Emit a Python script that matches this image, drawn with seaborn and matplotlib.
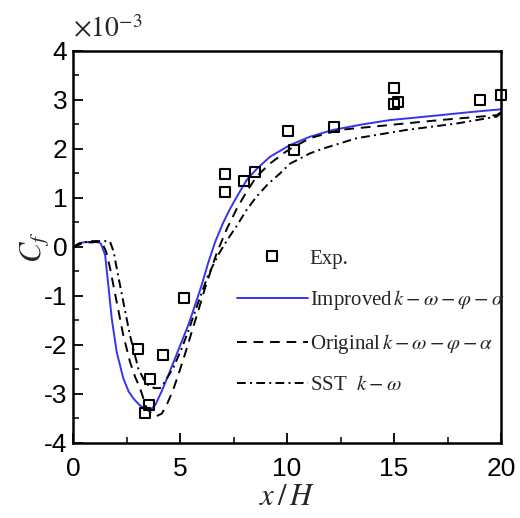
import numpy as np
import pandas as pd
import matplotlib
matplotlib.use("Agg")
import matplotlib.pyplot as plt
from matplotlib.ticker import MultipleLocator
from matplotlib.lines import Line2D
import seaborn as sns

# ---------------- data (Cf in units of 1e-3) ----------------
exp_x = [3.04, 3.36, 3.55, 3.60, 4.21, 5.19, 7.10, 7.10, 7.99, 8.50,
         10.05, 10.33, 12.20, 15.00, 15.00, 15.19, 19.02, 20.00]
exp_y = [-2.08, -3.39, -3.22, -2.69, -2.20, -1.04, 1.49, 1.12, 1.35, 1.53,
         2.37, 1.98, 2.45, 3.24, 2.92, 2.96, 3.00, 3.10]

imp_x = [0, 0.3, 0.6, 0.9, 1.1, 1.3, 1.5, 1.65, 1.81, 2.04, 2.35, 2.6, 2.82,
         3.05, 3.29, 3.6, 3.85, 4.14, 4.45, 4.77, 5.08, 5.39, 5.7, 6.01, 6.32,
         6.64, 7.0, 7.34, 7.7, 8.12, 8.6, 9.2, 10.14, 11.07, 12.16, 13.5,
         14.81, 16.0, 17.15, 18.5, 20]
imp_y = [0.0, 0.08, 0.10, 0.09, 0.11, 0.07, -0.16, -0.78, -1.46, -2.14, -2.68,
         -2.95, -3.09, -3.20, -3.29, -3.33, -3.22, -2.95, -2.62, -2.27, -1.93,
         -1.59, -1.19, -0.78, -0.32, 0.10, 0.48, 0.78, 1.06, 1.37, 1.60, 1.84,
         2.08, 2.25, 2.39, 2.50, 2.59, 2.64, 2.69, 2.75, 2.81]

org_x = [0, 0.3, 0.6, 0.9, 1.2, 1.4, 1.55, 1.73, 2.04, 2.35, 2.66, 2.9, 3.13,
         3.44, 3.7, 3.91, 4.15, 4.38, 4.65, 4.92, 5.23, 5.55, 5.86, 6.17, 6.45,
         6.71, 7.2, 7.65, 8.1, 8.58, 9.2, 9.83, 10.14, 11.07, 12.48, 14.81,
         17.15, 19.8, 20]
org_y = [0.0, 0.07, 0.10, 0.10, 0.10, 0.05, -0.10, -0.43, -1.12, -1.80, -2.34,
         -2.65, -2.88, -3.29, -3.42, -3.45, -3.40, -3.22, -2.95, -2.61, -2.19,
         -1.73, -1.29, -0.84, -0.47, -0.13, 0.38, 0.78, 1.12, 1.44, 1.70, 1.91,
         2.00, 2.22, 2.39, 2.49, 2.59, 2.69, 2.75]

sst_x = [0, 0.3, 0.6, 0.9, 1.2, 1.5, 1.73, 1.9, 2.04, 2.35, 2.66, 3.05, 3.3,
         3.52, 3.8, 4.07, 4.3, 4.7, 5.08, 5.4, 5.7, 6.0, 6.32, 6.8, 7.2, 7.65,
         8.1, 8.58, 9.1, 9.67, 10.14, 11.07, 11.7, 13.26, 15.6, 17.93, 19.8, 20]
sst_y = [0.0, 0.05, 0.10, 0.12, 0.12, 0.12, 0.11, -0.10, -0.43, -1.12, -1.80,
         -2.48, -2.70, -2.82, -2.88, -2.88, -2.75, -2.45, -2.07, -1.70, -1.32,
         -0.95, -0.57, -0.15, 0.14, 0.43, 0.75, 1.03, 1.28, 1.50, 1.70, 1.91,
         2.01, 2.22, 2.39, 2.52, 2.66, 2.73]

labels = ["Exp.",
          r"Improved$\,k-\omega-\varphi-\alpha$",
          r"Original$\,k-\omega-\varphi-\alpha$",
          r"SST  $k-\omega$"]
x_ticks = [0, 5, 10, 15, 20]
y_ticks = [-4, -3, -2, -1, 0, 1, 2, 3, 4]

# ---------------- style ----------------
sns.set_style("ticks")
plt.rcParams["font.family"] = ["Liberation Sans", "DejaVu Sans"]
plt.rcParams["mathtext.fontset"] = "stix"
plt.rcParams["axes.unicode_minus"] = False

blue = "#3535F0"

fig = plt.figure(figsize=(5.20, 5.18), dpi=100)
ax = fig.add_axes([0.1404, 0.1448, 0.8231, 0.7568])

lw = 1.4
sns.lineplot(x=imp_x, y=imp_y, ax=ax, sort=False, estimator=None,
             color=blue, lw=lw)
sns.lineplot(x=org_x, y=org_y, ax=ax, sort=False, estimator=None,
             color="black", lw=lw)
ax.lines[-1].set_dashes((5, 3.5))
sns.lineplot(x=sst_x, y=sst_y, ax=ax, sort=False, estimator=None,
             color="black", lw=lw)
ax.lines[-1].set_dashes((4.5, 2.2, 1.0, 2.2))
sns.scatterplot(x=exp_x, y=exp_y, ax=ax, marker="s", s=50,
                facecolors="none", edgecolor="black", linewidth=1.5,
                clip_on=False, zorder=5)

ax.set_xlim(0, 20)
ax.set_ylim(-4, 4)
ax.set_xticks(x_ticks)
ax.set_yticks(y_ticks)
ax.xaxis.set_minor_locator(MultipleLocator(2.5))
ax.yaxis.set_minor_locator(MultipleLocator(0.5))
ax.tick_params(axis="both", which="major", direction="in", length=7,
               width=1.3, labelsize=19, color="black", labelcolor="black",
               top=False, right=False)
ax.tick_params(axis="x", which="major", pad=10)
ax.tick_params(axis="y", which="major", pad=4)
ax.tick_params(axis="both", which="minor", direction="in", length=4,
               width=1.1, color="black", top=False, right=False)
for sp in ax.spines.values():
    sp.set_linewidth(1.8)
    sp.set_color("black")
    sp.set_visible(True)

ax.set_xlabel(r"$x\,/\,H$", fontsize=22, labelpad=1)
ax.set_ylabel(r"$C_f$", fontsize=22, labelpad=-5)
ax.text(0.0, 1.02, r"$\times10^{-3}$", transform=ax.transAxes,
        ha="left", va="bottom", fontsize=20)

handles = [
    Line2D([], [], ls="none", marker="s", markersize=7, markerfacecolor="none",
           markeredgecolor="black", markeredgewidth=1.5),
    Line2D([], [], color=blue, lw=lw),
    Line2D([], [], color="black", lw=lw, dashes=(5, 3.5)),
    Line2D([], [], color="black", lw=lw, dashes=(4.5, 2.2, 1.0, 2.2)),
]
ax.legend(handles, labels, loc="upper left", bbox_to_anchor=(0.383, 0.495),
          frameon=False, borderpad=0, borderaxespad=0, handlelength=3.4,
          handletextpad=0.1, labelspacing=0.95,
          prop={"family": ["Liberation Serif"], "size": 15})

fig.savefig("out.png", dpi=100)
